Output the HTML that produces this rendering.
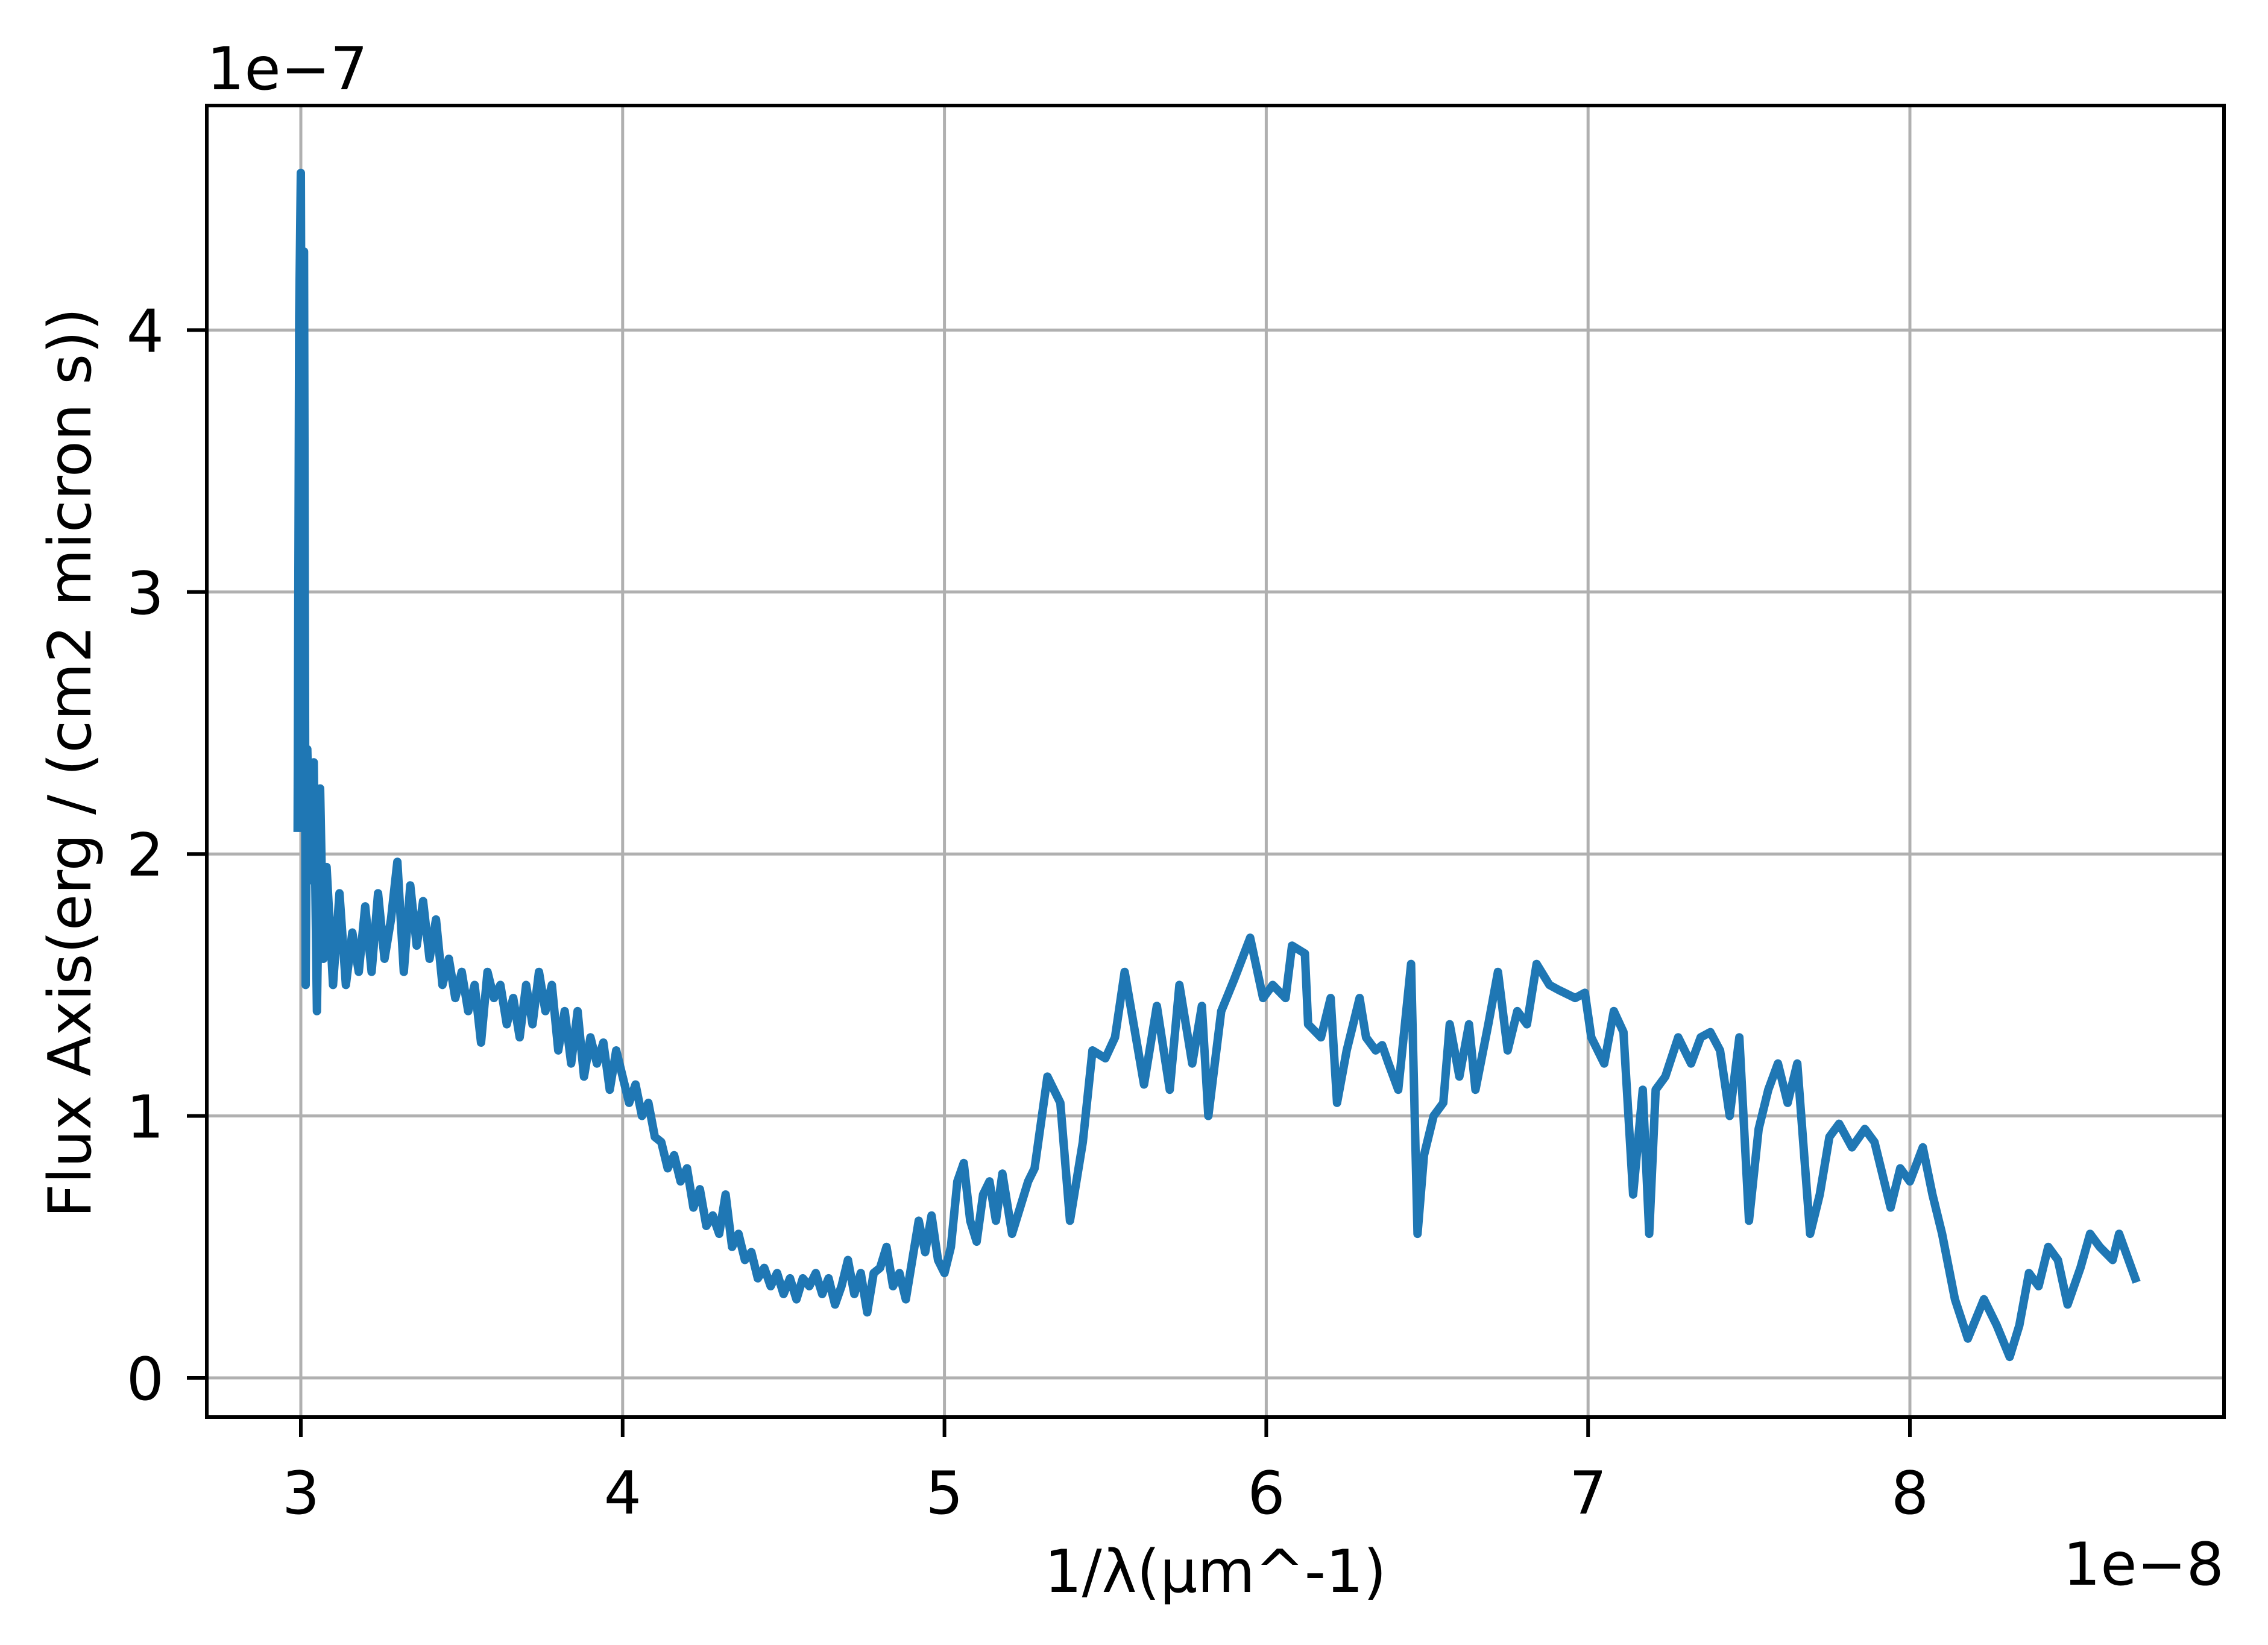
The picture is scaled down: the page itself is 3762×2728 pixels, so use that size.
<!DOCTYPE html>
<html><head><meta charset="utf-8"><style>
html,body{margin:0;padding:0;background:#fff;}
svg{display:block;font-family:"DejaVu Sans","Liberation Sans",sans-serif;}
</style></head><body>
<svg id="chart" width="3762" height="2728" viewBox="0 0 3762 2728">
<rect x="0" y="0" width="3762" height="2728" fill="#fff"/>
<g id="grid"></g>
<g id="series"></g>
<rect x="343" y="175" width="3346" height="2175" fill="none" stroke="#000" stroke-width="6"/>
<g id="ticks"></g>
<text x="343" y="148" font-size="98">1e−7</text>
<text x="3689" y="2628" font-size="98" text-anchor="end">1e−8</text>
<text x="2016" y="2640" font-size="98" text-anchor="middle">1/λ(μm^-1)</text>
<text x="0" y="0" font-size="98" text-anchor="middle" transform="translate(150,1265) rotate(-90)">Flux Axis(erg / (cm2 micron s))</text>
</svg>
<script>
const xTicks = [3,4,5,6,7,8];
const yTicks = [0,1,2,3,4];
const xTickLabels = ["3","4","5","6","7","8"];
const yTickLabels = ["0","1","2","3","4"];
const xs = [2.99,2.995,3.0,3.005,3.01,3.015,3.02,3.03,3.04,3.05,3.06,3.07,3.08,3.10,3.12,3.14,3.16,3.18,3.20,3.22,3.24,3.26,3.28,3.30,3.32,3.34,3.36,3.38,3.40,3.42,3.44,3.46,3.48,3.50,3.52,3.54,3.56,3.58,3.60,3.62,3.64,3.66,3.68,3.70,3.72,3.74,3.76,3.78,3.80,3.82,3.84,3.86,3.88,3.90,3.92,3.94,3.96,3.98,4.00,4.02,4.04,4.06,4.08,4.10,4.12,4.14,4.16,4.18,4.20,4.22,4.24,4.26,4.28,4.30,4.32,4.34,4.36,4.38,4.40,4.42,4.44,4.46,4.48,4.50,4.52,4.54,4.56,4.58,4.60,4.62,4.64,4.66,4.68,4.70,4.72,4.74,4.76,4.78,4.80,4.82,4.84,4.86,4.88,4.90,4.92,4.94,4.96,4.98,5.00,5.02,5.04,5.06,5.08,5.10,5.12,5.14,5.16,5.18,5.21,5.26,5.28,5.32,5.36,5.39,5.43,5.46,5.50,5.53,5.56,5.62,5.66,5.70,5.73,5.77,5.80,5.82,5.86,5.90,5.95,5.99,6.02,6.06,6.08,6.12,6.13,6.17,6.20,6.22,6.25,6.27,6.29,6.31,6.34,6.36,6.38,6.41,6.45,6.47,6.49,6.52,6.55,6.57,6.60,6.63,6.65,6.69,6.72,6.75,6.78,6.81,6.84,6.88,6.91,6.96,6.99,7.01,7.05,7.08,7.11,7.14,7.17,7.19,7.21,7.24,7.28,7.32,7.35,7.38,7.41,7.44,7.47,7.50,7.53,7.56,7.59,7.62,7.65,7.69,7.72,7.75,7.78,7.82,7.86,7.89,7.94,7.97,8.00,8.04,8.07,8.10,8.14,8.18,8.23,8.27,8.31,8.34,8.37,8.40,8.43,8.46,8.49,8.53,8.56,8.59,8.63,8.65,8.70];
const ys = [2.1,4.05,4.6,2.5,4.3,1.5,2.4,1.9,2.35,1.4,2.25,1.6,1.95,1.5,1.85,1.5,1.7,1.55,1.8,1.55,1.85,1.6,1.75,1.97,1.55,1.88,1.65,1.82,1.6,1.75,1.5,1.6,1.45,1.55,1.4,1.5,1.28,1.55,1.45,1.5,1.35,1.45,1.3,1.5,1.35,1.55,1.4,1.5,1.25,1.4,1.2,1.4,1.15,1.3,1.2,1.28,1.1,1.25,1.15,1.05,1.12,1.0,1.05,0.92,0.9,0.8,0.85,0.75,0.8,0.65,0.72,0.58,0.62,0.55,0.7,0.5,0.55,0.45,0.48,0.38,0.42,0.35,0.4,0.32,0.38,0.3,0.38,0.35,0.4,0.32,0.38,0.28,0.35,0.45,0.32,0.4,0.25,0.4,0.42,0.5,0.35,0.4,0.3,0.45,0.6,0.48,0.62,0.45,0.4,0.5,0.75,0.82,0.6,0.52,0.7,0.75,0.6,0.78,0.55,0.75,0.8,1.15,1.05,0.6,0.9,1.25,1.22,1.3,1.55,1.12,1.42,1.1,1.5,1.2,1.42,1.0,1.4,1.52,1.68,1.45,1.5,1.45,1.65,1.62,1.35,1.3,1.45,1.05,1.25,1.35,1.45,1.3,1.25,1.27,1.2,1.1,1.58,0.55,0.85,1.0,1.05,1.35,1.15,1.35,1.1,1.35,1.55,1.25,1.4,1.35,1.58,1.5,1.48,1.45,1.47,1.3,1.2,1.4,1.32,0.7,1.1,0.55,1.1,1.15,1.3,1.2,1.3,1.32,1.25,1.0,1.3,0.6,0.95,1.1,1.2,1.05,1.2,0.55,0.7,0.92,0.97,0.88,0.95,0.9,0.65,0.8,0.75,0.88,0.7,0.55,0.3,0.15,0.3,0.2,0.08,0.2,0.4,0.35,0.5,0.45,0.28,0.42,0.55,0.5,0.45,0.55,0.38];
const NS='http://www.w3.org/2000/svg';
function xPx(v){return 499+(v-3)*533.8;}
function yPx(v){return 2285-v*434.4;}
const grid=document.getElementById('grid'), ticks=document.getElementById('ticks'), series=document.getElementById('series');
function mk(tag,attrs,parent){const e=document.createElementNS(NS,tag);for(const k in attrs)e.setAttribute(k,attrs[k]);parent.appendChild(e);return e;}
xTicks.forEach((t,i)=>{
  const g=mk('line',{x1:xPx(t),x2:xPx(t),y1:175,y2:2350,stroke:'#b0b0b0','stroke-width':5},grid);
  
  
  const tk=mk('line',{x1:xPx(t),x2:xPx(t),y1:2350,y2:2383,stroke:'#000','stroke-width':6},ticks);
  
  
  const tx=mk('text',{x:xPx(t),y:2510,'font-size':98,'text-anchor':'middle'},ticks);
  tx.textContent=xTickLabels[i];
  
  
});
yTicks.forEach((t,i)=>{
  const g=mk('line',{x1:343,x2:3689,y1:yPx(t),y2:yPx(t),stroke:'#b0b0b0','stroke-width':5},grid);
  
  
  const tk=mk('line',{x1:310,x2:343,y1:yPx(t),y2:yPx(t),stroke:'#000','stroke-width':6},ticks);
  
  
  const tx=mk('text',{x:272,y:yPx(t)+36,'font-size':98,'text-anchor':'end'},ticks);
  tx.textContent=yTickLabels[i];
  
  
});
const pts=xs.map((x,i)=>xPx(x).toFixed(1)+','+yPx(ys[i]).toFixed(1)).join(' ');
const pl=mk('polyline',{points:pts,fill:'none',stroke:'#1f77b4','stroke-width':14,'stroke-linejoin':'round','stroke-linecap':'square'},series);


</script>
</body></html>
